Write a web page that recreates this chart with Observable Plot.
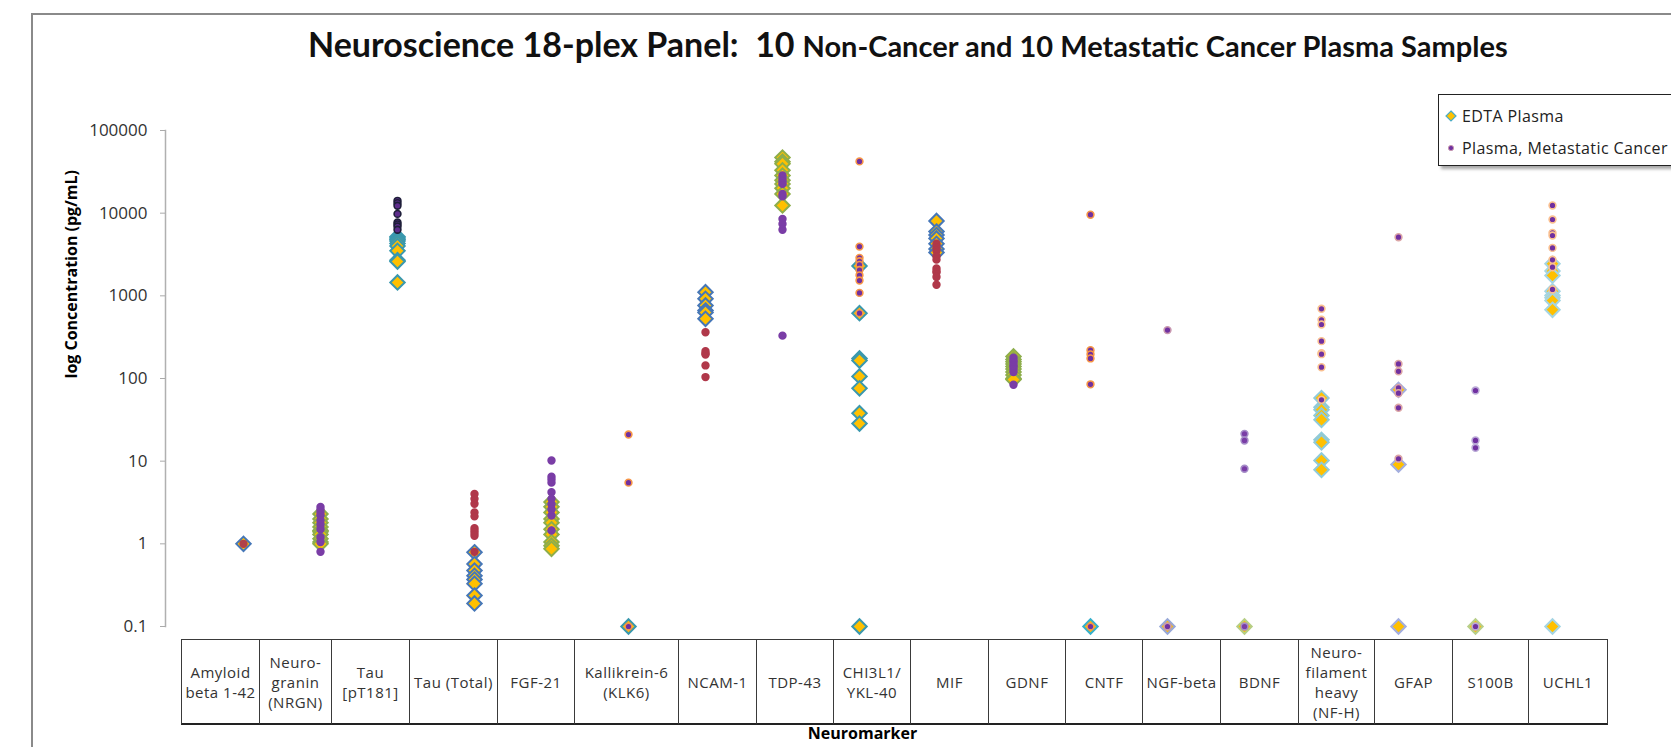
<!DOCTYPE html>
<html>
<head>
<meta charset="utf-8">
<script src="https://cdn.jsdelivr.net/npm/d3@7"></script>
<script src="https://cdn.jsdelivr.net/npm/@observablehq/plot@0.6"></script>
<style>
  html, body { margin: 0; padding: 0; background: #fff; }
  body { width: 1671px; height: 747px; overflow: hidden; position: relative; font-family: "Open Sans", sans-serif; }
  #frame { position: absolute; left: 31px; top: 13px; width: 1700px; height: 800px; border-left: 2px solid #8a8a8a; border-top: 2px solid #8a8a8a; box-sizing: border-box; }
  #chart { position: absolute; left: 0; top: 0; }
  #title { position: absolute; left: 308px; top: 27px; white-space: nowrap; font-family: Lato, sans-serif; font-weight: bold; color: #111; line-height: 1; }
  #title .big { font-size: 34px; }
  #title .small { font-size: 29px; margin-left: 4px; }
  #legend { position: absolute; left: 1438px; top: 94px; width: 270px; height: 72px; border: 1px solid #222; background: #fff; box-shadow: 3px 3px 3px rgba(0,0,0,0.35); box-sizing: border-box; font-size: 16px; letter-spacing: 0.4px; color: #222; }
  #legend .item { position: absolute; left: 6px; height: 20px; display: flex; align-items: center; white-space: nowrap; }
  #legend svg { margin-right: 5px; }
  #table { position: absolute; left: 181px; top: 639px; height: 86px; }
  #table .cell { position: absolute; top: 0; height: 86px; box-sizing: border-box; border: 1px solid #3a3a3a; border-bottom: 2px solid #222; display: flex; align-items: center; justify-content: center; text-align: center; white-space: pre-line; font-size: 15px; line-height: 20px; letter-spacing: 0.5px; color: #333; background: #fff; }
</style>
</head>
<body>
<div id="frame"></div>
<div id="chart"></div>
<div id="title"><span class="big">Neuroscience 18-plex Panel:&nbsp; 10</span> <span class="small">Non-Cancer and 10 Metastatic Cancer Plasma Samples</span></div>
<div id="legend"></div>
<div id="table"></div>
<script>
// ---- data ----
const markers = ["Amyloid beta 1-42", "Neurogranin (NRGN)", "Tau [pT181]", "Tau (Total)", "FGF-21", "Kallikrein-6 (KLK6)", "NCAM-1", "TDP-43", "CHI3L1/YKL-40", "MIF", "GDNF", "CNTF", "NGF-beta", "BDNF", "Neurofilament heavy (NF-H)", "GFAP", "S100B", "UCHL1"];
const tickLabels = ["Amyloid\nbeta 1-42", "Neuro-\ngranin\n(NRGN)", "Tau\n[pT181]", "Tau (Total)", "FGF-21", "Kallikrein-6\n(KLK6)", "NCAM-1", "TDP-43", "CHI3L1/\nYKL-40", "MIF", "GDNF", "CNTF", "NGF-beta", "BDNF", "Neuro-\nfilament\nheavy\n(NF-H)", "GFAP", "S100B", "UCHL1"];

const edtaPlasma = [
  [1],
  [2.3, 2.0, 1.8, 1.6, 1.45, 1.4, 1.3, 1.15, 1.05, 1.0],
  [5200, 5000, 4800, 4600, 4300, 4000, 3500, 2700, 2600, 1450],
  [0.79, 0.57, 0.475, 0.41, 0.37, 0.33, 0.237, 0.19],
  [3.2, 2.8, 2.4, 2.0, 1.8, 1.5, 1.3, 1.05, 0.95, 0.87],
  [0.1],
  [1107, 920, 764, 664, 630, 527],
  [47000, 42000, 39500, 33000, 28500, 25000, 22600, 20000, 17100, 12400],
  [2300, 617, 175, 165, 106, 76, 38, 28.5, 0.1],
  [8040, 6000, 5440, 4940, 4260, 3680, 3340],
  [185, 170, 160, 150, 140, 130, 120, 110, 100, 97],
  [0.1],
  [0.1],
  [0.1],
  [58, 45, 41.8, 35.7, 31.6, 18.1, 16.9, 10.2, 7.85],
  [73, 9.1, 0.1],
  [0.1],
  [2440, 2000, 1760, 1138, 1010, 950, 877, 678, 0.1]
];

const cancerPlasma = [
  [1],
  [2.8, 2.6, 2.4, 2.2, 1.9, 1.7, 1.5, 1.2, 1.05, 0.8],
  [14100, 13200, 12300, 9800, 7700, 7300, 6900, 6300],
  [4.0, 3.5, 3.05, 2.4, 2.15, 1.55, 1.45, 1.35, 1.25, 0.8],
  [10.2, 6.5, 6.0, 5.5, 4.2, 3.5, 3.0, 2.6, 2.2, 1.45],
  [21, 5.5, 0.1],
  [363, 214, 200, 195, 144, 104],
  [28500, 26000, 24000, 22600, 17100, 16000, 8500, 7400, 6300, 330],
  [42300, 3940, 2880, 2620, 2370, 2050, 1770, 1530, 1085, 617],
  [4260, 3860, 3500, 3020, 2740, 2150, 2000, 1910, 1690, 1360],
  [178, 165, 157, 145, 140, 130, 120, 84],
  [9580, 220, 196, 175, 85, 0.1],
  [385, 0.1],
  [21.4, 17.8, 8.1, 0.1],
  [697, 513, 450, 283, 202, 197, 137, 55.2],
  [5120, 150, 122, 77, 66.4, 44.2, 10.7],
  [71.6, 17.8, 14.5, 0.1],
  [12400, 8380, 5780, 5370, 3800, 2730, 2220, 1195]
];

const yTicks = [0.1, 1, 10, 100, 1000, 10000, 100000];
const yTickLabels = ["0.1", "1", "10", "100", "1000", "10000", "100000"];
const seriesNames = ["EDTA Plasma", "Plasma, Metastatic Cancer"];
const yTitle = "log Concentration (pg/mL)";
const xTitle = "Neuromarker";

// ---- styles (per marker column) ----
const edtaStroke = ["#4677B8", "#8DAE4C", "#3A98AE", "#4677B8", "#8DAE4C", "#3A98AE", "#4677B8", "#8DAE4C", "#3A98AE", "#4677B8", "#8DAE4C", "#35B0CC", "#98A8D8", "#B6CE85", "#8FCBDB", "#A3AEDF", "#B8CF8A", "#A5D5E3"];
const cancerFill = ["#B0414A", "#7A3DA6", "#5E2D8C", "#B0384A", "#7A3DA6", "#7030A0", "#B0384A", "#7A3DA6", "#7030A0", "#B0384A", "#7A3DA6", "#7030A0", "#7030A0", "#7A3DA6", "#7030A0", "#7030A0", "#7030A0", "#7030A0"];
const cancerStroke = ["#B0414A", "#7A3DA6", "#1F1F3A", "#B0384A", "#7A3DA6", "#F79646", "#B0384A", "#7A3DA6", "#F79646", "#B0384A", "#7A3DA6", "#F79646", "#C898B0", "#A58CC8", "#FAC090", "#DCA6A6", "#B9A8D6", "#FAC090"];

const edtaRows = markers.flatMap((m, i) => edtaPlasma[i].map(v => ({marker: m, value: v, stroke: edtaStroke[i]})));
const cancerRows = markers.flatMap((m, i) => cancerPlasma[i].map(v => ({marker: m, value: v, fill: cancerFill[i], stroke: cancerStroke[i]})));

const chart = Plot.plot({
  width: 1671,
  height: 747,
  marginLeft: 165,
  marginRight: 42,
  marginTop: 130,
  marginBottom: 121,
  style: {fontFamily: "'Open Sans', sans-serif", fontSize: "17px", color: "#333", background: "transparent", overflow: "visible"},
  x: {type: "point", domain: markers, padding: 1, axis: null},
  y: {type: "log", domain: [0.1, 100000], axis: null},
  color: {type: "identity"},
  marks: [
    Plot.frame({anchor: "left", stroke: "#b0b0b0", strokeWidth: 1.5}),
    Plot.axisY({ticks: yTicks, tickFormat: d => yTickLabels[yTicks.indexOf(d)], tickSize: 5, tickPadding: 13, stroke: "#aaaaaa", fill: "#333", label: null, fontSize: 17}),
    Plot.dot(edtaRows, {x: "marker", y: "value", symbol: "diamond2", r: 6.5, fill: "#FFC000", stroke: "stroke", strokeWidth: 2}),
    Plot.dot(cancerRows, {x: "marker", y: "value", r: 3.4, fill: "fill", stroke: "stroke", strokeWidth: 1.6}),
    Plot.text([yTitle], {frameAnchor: "left", dx: -94, rotate: -90, fontWeight: "bold", fontSize: 16, fill: "#000"}),
    Plot.text([xTitle], {frameAnchor: "bottom", dx: -35, dy: 112, fontWeight: "bold", fontSize: 16, fill: "#000"})
  ]
});
document.getElementById("chart").appendChild(chart);

// ---- legend ----
const legend = d3.select("#legend");
const items = [
  {y: 11, sym: `<svg width="12" height="12" viewBox="-6 -6 12 12"><path d="M0,-5L5,0L0,5L-5,0Z" fill="#FFC000" stroke="#4BACC6" stroke-width="1.2"/></svg>`},
  {y: 43, sym: `<svg width="12" height="12" viewBox="-6 -6 12 12"><circle r="2.6" fill="#7030A0" stroke="#C898B0" stroke-width="1"/></svg>`}
];
items.forEach((it, i) => {
  legend.append("div").attr("class", "item").style("top", it.y + "px")
    .html(it.sym + `<span>${seriesNames[i]}</span>`);
});

// ---- category table beneath the axis ----
const colWidths = [78, 72, 78, 88, 77, 104, 78, 77, 77, 78, 77, 77, 78, 78, 76, 78, 76, 79];
const table = d3.select("#table");
let acc = 0;
tickLabels.forEach((t, i) => {
  table.append("div").attr("class", "cell")
    .style("left", acc + "px")
    .style("width", (colWidths[i] + 1) + "px")
    .text(t);
  acc += colWidths[i];
});
</script>
</body>
</html>
